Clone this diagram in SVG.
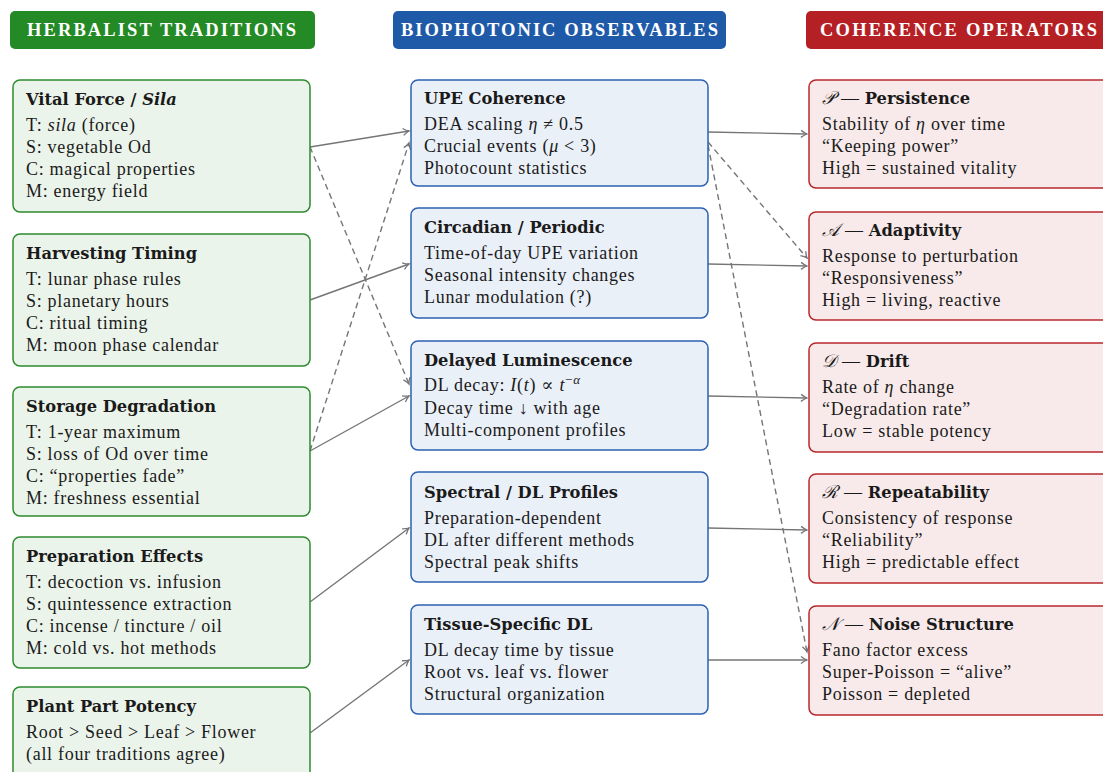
<svg xmlns="http://www.w3.org/2000/svg" width="1103" height="772" viewBox="0 0 1103 772">
<style>
text{font-family:"Liberation Serif","DejaVu Serif",serif;fill:#1a1a1a;font-size:18px;letter-spacing:0.7px}
.t{font-family:"DejaVu Serif",serif;font-weight:bold;font-size:16.3px;letter-spacing:0}
.h{font-weight:bold;fill:#fff;font-size:18.5px;letter-spacing:0}
.g{fill:#ebf4ea;stroke:#2e8b2e;stroke-width:1.5}
.b{fill:#eaf0f8;stroke:#2b62b0;stroke-width:1.5}
.r{fill:#f8eaea;stroke:#b8282b;stroke-width:1.5}
.c{fill:none;stroke:#757575;stroke-width:1.4}
.d{stroke-dasharray:6,4}
.m{font-style:italic}
</style>
<defs>
<marker id="ar" markerWidth="12" markerHeight="10" refX="1" refY="0" viewBox="-6 -5 8 10" orient="auto" markerUnits="userSpaceOnUse">
<path d="M-5,-3.5 Q-1.5,-0.8 1,0 Q-1.5,0.8 -5,3.5" fill="none" stroke="#757575" stroke-width="1.3"/>
</marker>
</defs>
<g id="headers">
<g id="h-herbal"><rect x="10" y="11" width="305" height="38" rx="5" fill="#238a25"/><text class="h" x="27" y="36" textLength="269" lengthAdjust="spacing">HERBALIST TRADITIONS</text></g>
<g id="h-bio"><rect x="393" y="11" width="333" height="38" rx="5" fill="#1f5aa8"/><text class="h" x="401" y="36" textLength="317" lengthAdjust="spacing">BIOPHOTONIC OBSERVABLES</text></g>
<g id="h-coh"><rect x="806" y="11" width="310" height="38" rx="5" fill="#b52025"/><text class="h" x="820" y="36" textLength="277" lengthAdjust="spacing">COHERENCE OPERATORS</text></g>
</g>
<g id="connectors">
<line class="c" x1="310" y1="147" x2="409" y2="131" marker-end="url(#ar)"/>
<line class="c" x1="310" y1="300" x2="409" y2="264" marker-end="url(#ar)"/>
<line class="c" x1="310" y1="451" x2="409" y2="396" marker-end="url(#ar)"/>
<line class="c" x1="310" y1="602" x2="409" y2="528" marker-end="url(#ar)"/>
<line class="c" x1="310" y1="733" x2="409" y2="660" marker-end="url(#ar)"/>
<line class="c" x1="708" y1="132" x2="807" y2="134" marker-end="url(#ar)"/>
<line class="c" x1="708" y1="264" x2="807" y2="266" marker-end="url(#ar)"/>
<line class="c" x1="708" y1="396" x2="807" y2="398" marker-end="url(#ar)"/>
<line class="c" x1="708" y1="528" x2="807" y2="530" marker-end="url(#ar)"/>
<line class="c" x1="708" y1="660" x2="807" y2="660" marker-end="url(#ar)"/>
<line class="c d" x1="310" y1="147" x2="409" y2="384" marker-end="url(#ar)"/>
<line class="c d" x1="310" y1="451" x2="409" y2="143" marker-end="url(#ar)"/>
<line class="c d" x1="708" y1="142" x2="807" y2="258" marker-end="url(#ar)"/>
<line class="c d" x1="708" y1="145" x2="807" y2="652" marker-end="url(#ar)"/>
</g>
<g id="vital-force"><rect class="g" x="13" y="80" width="297" height="132" rx="7"/>
<text class="t" x="26" y="105">Vital Force / <tspan font-style="italic">Sila</tspan></text>
<text x="26" y="131">T: <tspan class="m">sila</tspan> (force)</text>
<text x="26" y="153">S: vegetable Od</text>
<text x="26" y="175">C: magical properties</text>
<text x="26" y="197">M: energy field</text></g>
<g id="harvesting-timing"><rect class="g" x="13" y="234" width="297" height="132" rx="7"/>
<text class="t" x="26" y="259">Harvesting Timing</text>
<text x="26" y="285">T: lunar phase rules</text>
<text x="26" y="307">S: planetary hours</text>
<text x="26" y="329">C: ritual timing</text>
<text x="26" y="351">M: moon phase calendar</text></g>
<g id="storage-degradation"><rect class="g" x="13" y="387" width="297" height="129" rx="7"/>
<text class="t" x="26" y="412">Storage Degradation</text>
<text x="26" y="438">T: 1-year maximum</text>
<text x="26" y="460">S: loss of Od over time</text>
<text x="26" y="482">C: “properties fade”</text>
<text x="26" y="504">M: freshness essential</text></g>
<g id="preparation-effects"><rect class="g" x="13" y="537" width="297" height="131" rx="7"/>
<text class="t" x="26" y="562">Preparation Effects</text>
<text x="26" y="588">T: decoction vs. infusion</text>
<text x="26" y="610">S: quintessence extraction</text>
<text x="26" y="632">C: incense / tincture / oil</text>
<text x="26" y="654">M: cold vs. hot methods</text></g>
<g id="plant-part-potency"><rect class="g" x="13" y="687" width="297" height="100" rx="7"/>
<text class="t" x="26" y="712">Plant Part Potency</text>
<text x="26" y="738">Root &gt; Seed &gt; Leaf &gt; Flower</text>
<text x="26" y="760">(all four traditions agree)</text></g>
<g id="upe-coherence"><rect class="b" x="411" y="80" width="297" height="106" rx="7"/>
<text class="t" x="424" y="104">UPE Coherence</text>
<text x="424" y="130">DEA scaling <tspan class="m">η</tspan> ≠ 0.5</text>
<text x="424" y="152">Crucial events (<tspan class="m">μ</tspan> &lt; 3)</text>
<text x="424" y="174">Photocount statistics</text></g>
<g id="circadian"><rect class="b" x="411" y="208" width="297" height="110" rx="7"/>
<text class="t" x="424" y="233">Circadian / Periodic</text>
<text x="424" y="259">Time-of-day UPE variation</text>
<text x="424" y="281">Seasonal intensity changes</text>
<text x="424" y="303">Lunar modulation (?)</text></g>
<g id="delayed-luminescence"><rect class="b" x="411" y="341" width="297" height="109" rx="7"/>
<text class="t" x="424" y="366">Delayed Luminescence</text>
<text x="424" y="391">DL decay: <tspan class="m">I</tspan>(<tspan class="m">t</tspan>) ∝ <tspan class="m">t</tspan><tspan dy="-7" font-size="13">−<tspan class="m">α</tspan></tspan></text>
<text x="424" y="414">Decay time ↓ with age</text>
<text x="424" y="436">Multi-component profiles</text></g>
<g id="spectral-dl"><rect class="b" x="411" y="472" width="297" height="110" rx="7"/>
<text class="t" x="424" y="498">Spectral / DL Profiles</text>
<text x="424" y="524">Preparation-dependent</text>
<text x="424" y="546">DL after different methods</text>
<text x="424" y="568">Spectral peak shifts</text></g>
<g id="tissue-specific"><rect class="b" x="411" y="605" width="297" height="109" rx="7"/>
<text class="t" x="424" y="630">Tissue-Specific DL</text>
<text x="424" y="656">DL decay time by tissue</text>
<text x="424" y="678">Root vs. leaf vs. flower</text>
<text x="424" y="700">Structural organization</text></g>
<g id="persistence"><rect class="r" x="809" y="80" width="310" height="108" rx="7"/>
<text x="822" y="104"><tspan class="m">𝒫</tspan> — <tspan class="t">Persistence</tspan></text>
<text x="822" y="130">Stability of <tspan class="m">η</tspan> over time</text>
<text x="822" y="152">“Keeping power”</text>
<text x="822" y="174">High = sustained vitality</text></g>
<g id="adaptivity"><rect class="r" x="809" y="212" width="310" height="108" rx="7"/>
<text x="822" y="236"><tspan class="m">𝒜</tspan> — <tspan class="t">Adaptivity</tspan></text>
<text x="822" y="262">Response to perturbation</text>
<text x="822" y="284">“Responsiveness”</text>
<text x="822" y="306">High = living, reactive</text></g>
<g id="drift"><rect class="r" x="809" y="343" width="310" height="109" rx="7"/>
<text x="822" y="367"><tspan class="m">𝒟</tspan> — <tspan class="t">Drift</tspan></text>
<text x="822" y="393">Rate of <tspan class="m">η</tspan> change</text>
<text x="822" y="415">“Degradation rate”</text>
<text x="822" y="437">Low = stable potency</text></g>
<g id="repeatability"><rect class="r" x="809" y="474" width="310" height="109" rx="7"/>
<text x="822" y="498"><tspan class="m">ℛ</tspan> — <tspan class="t">Repeatability</tspan></text>
<text x="822" y="524">Consistency of response</text>
<text x="822" y="546">“Reliability”</text>
<text x="822" y="568">High = predictable effect</text></g>
<g id="noise-structure"><rect class="r" x="809" y="606" width="310" height="109" rx="7"/>
<text x="822" y="630"><tspan class="m">𝒩</tspan> — <tspan class="t">Noise Structure</tspan></text>
<text x="822" y="656">Fano factor excess</text>
<text x="822" y="678">Super-Poisson = “alive”</text>
<text x="822" y="700">Poisson = depleted</text></g>
</svg>
